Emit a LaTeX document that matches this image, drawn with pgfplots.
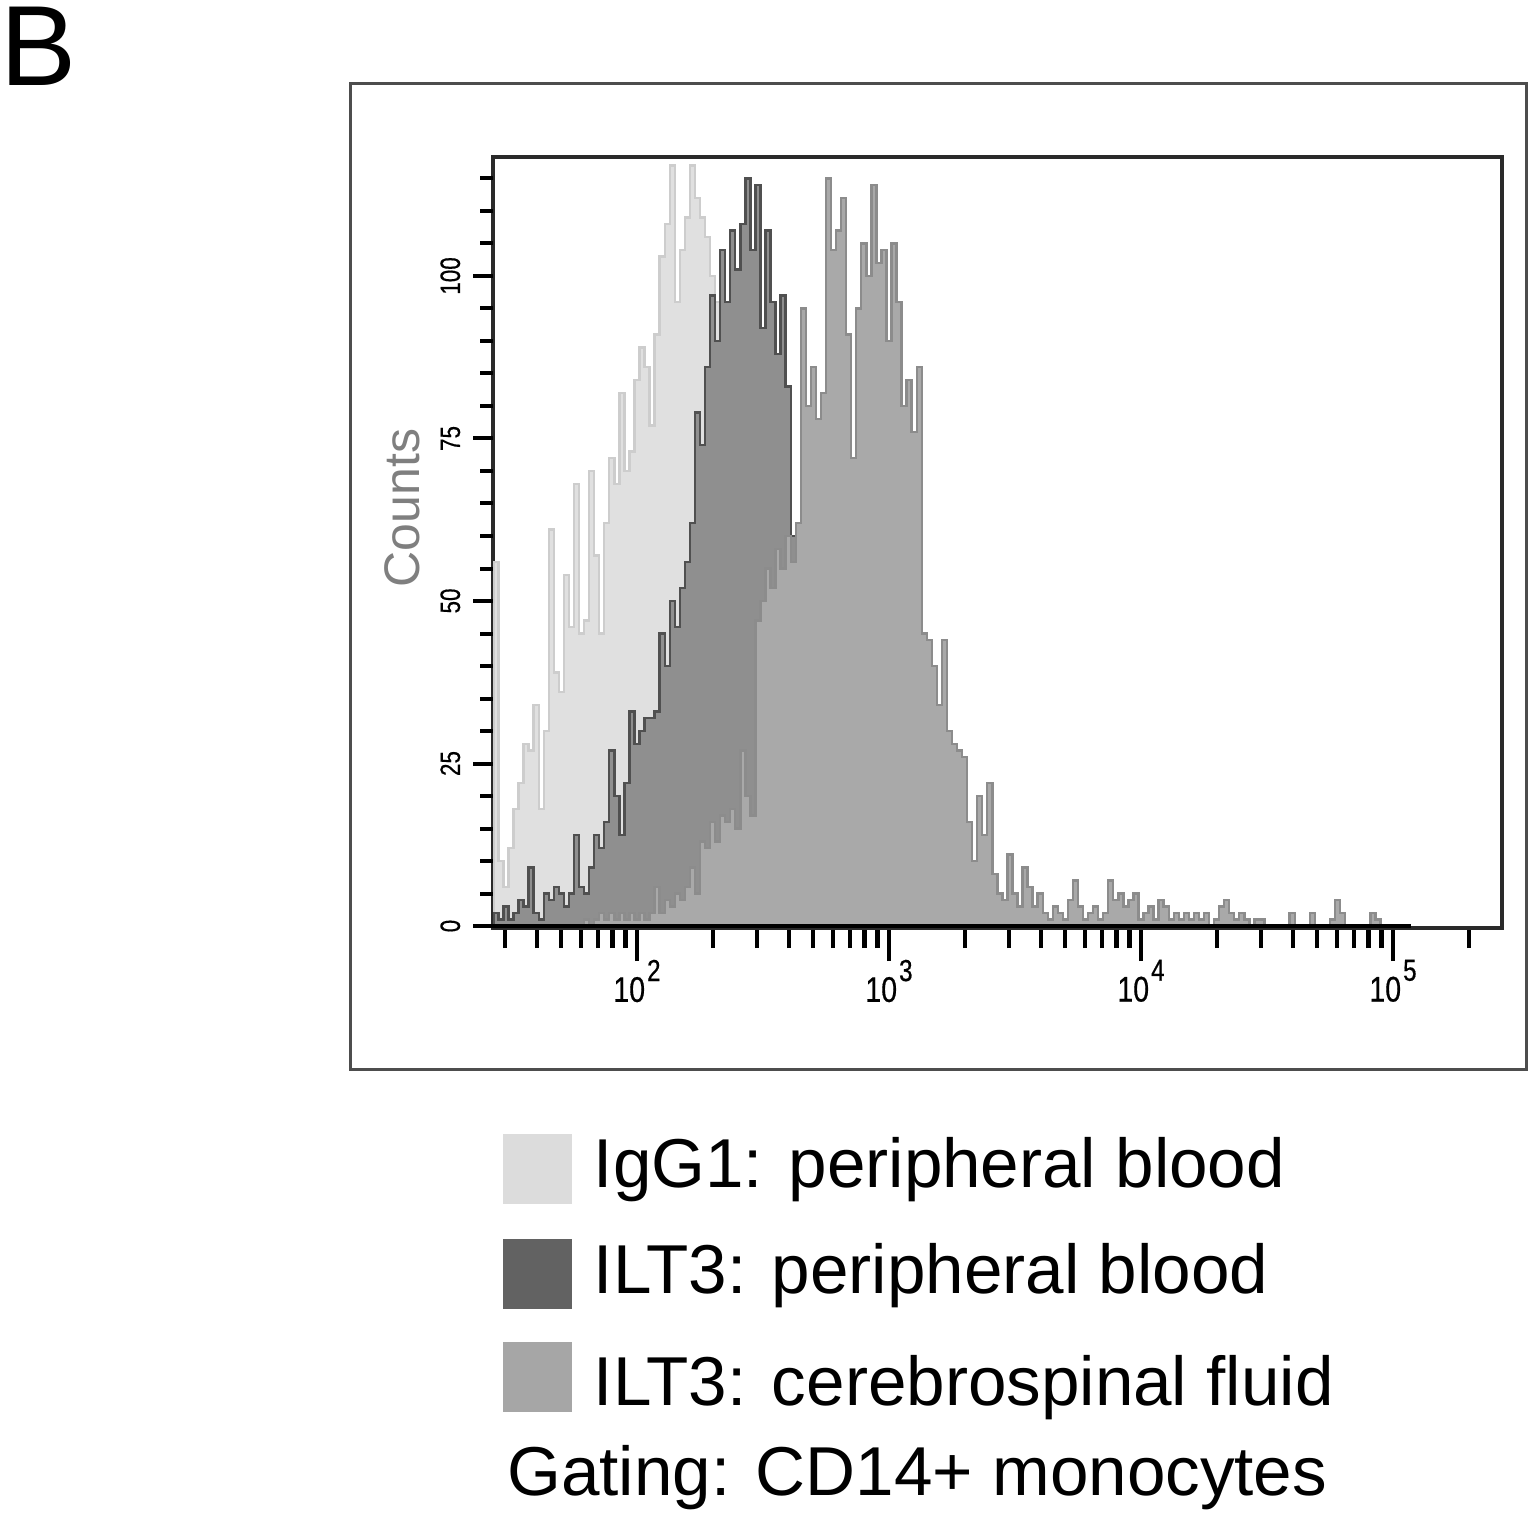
\documentclass[border=0pt]{standalone}
\usepackage{fontspec}
\setmainfont{Liberation Sans}
\newfontfamily\tickfont[FakeStretch=0.8,FakeBold=0.5]{Liberation Sans}
\usepackage{pgfplots}
\pgfplotsset{compat=1.18}
\usepackage{pgfplotstable}
\definecolor{iggfill}{HTML}{E0E0E0}
\definecolor{iggline}{HTML}{CDCDCD}
\definecolor{pbfill}{HTML}{8F8F8F}
\definecolor{pbline}{HTML}{505050}
\definecolor{csffill}{HTML}{A9A9A9}
\definecolor{csfline}{HTML}{8C8C8C}
\definecolor{leg1}{HTML}{DCDCDC}
\definecolor{leg2}{HTML}{626262}
\definecolor{leg3}{HTML}{A6A6A6}
\definecolor{framegray}{HTML}{4D4D4D}
\definecolor{axgray}{HTML}{2A2A2A}
\definecolor{labgray}{HTML}{7F7F7F}
\newcommand{\tl}[1]{10\kern0.5pt\raisebox{5.2pt}{\fontsize{7.6}{7.6}\selectfont #1}}

% IgG1: peripheral blood (x = log10 fluorescence, bin start; counts)
\pgfplotstableread{
lx c
1.43 56
1.45 10
1.47 6
1.49 12
1.51 18
1.53 22
1.55 28
1.57 27
1.59 34
1.61 18
1.63 30
1.65 61
1.67 39
1.69 36
1.71 54
1.73 46
1.75 68
1.77 45
1.79 47
1.81 70
1.83 57
1.85 45
1.87 62
1.89 72
1.91 68
1.93 82
1.95 70
1.97 73
1.99 84
2.01 89
2.03 86
2.05 77
2.07 91
2.09 103
2.11 108
2.13 117
2.15 96
2.17 104
2.19 109
2.21 117
2.23 112
2.25 109
2.27 106
2.29 100
2.31 96
2.33 90
2.35 84
2.37 80
2.39 74
2.41 70
2.43 64
2.45 60
2.47 55
2.49 50
2.51 46
2.53 42
2.55 38
2.57 34
2.59 30
2.61 27
2.63 24
2.65 20
2.67 17
2.69 14
2.71 12
2.73 10
2.75 8
2.77 6
2.79 5
2.81 4
2.83 3
2.85 2
2.87 2
2.89 1
2.91 1
2.93 0
}\igg

% ILT3: peripheral blood
\pgfplotstableread{
lx c
1.43 2
1.45 1
1.47 3
1.49 1
1.51 2
1.53 4
1.55 3
1.57 9
1.59 2
1.61 1
1.63 5
1.65 4
1.67 6
1.69 5
1.71 3
1.73 5
1.75 14
1.77 6
1.79 5
1.81 9
1.83 14
1.85 12
1.87 16
1.89 27
1.91 20
1.93 14
1.95 22
1.97 33
1.99 28
2.01 30
2.03 32
2.05 32
2.07 33
2.09 45
2.11 40
2.13 50
2.15 46
2.17 52
2.19 56
2.21 62
2.23 79
2.25 74
2.27 86
2.29 97
2.31 90
2.33 104
2.35 96
2.37 107
2.39 101
2.41 108
2.43 115
2.45 104
2.47 114
2.49 92
2.51 107
2.53 96
2.55 88
2.57 97
2.59 83
2.61 60
2.63 58
2.65 55
2.67 52
2.69 50
2.71 47
2.73 45
2.75 43
2.77 40
2.79 38
2.81 36
2.83 34
2.85 32
2.87 31
2.89 30
2.91 28
2.93 27
2.95 26
2.97 25
2.99 24
3.01 23
3.03 22
3.05 21
3.07 20
3.09 19
3.11 18
3.13 17
3.15 16
3.17 15
3.19 14
3.21 13
3.23 12
3.25 11
3.27 10
3.29 9
3.31 8
3.33 7
3.35 6
3.37 5
3.39 4
3.41 3
3.43 2
3.45 0
5.07 0
}\pb

% ILT3: cerebrospinal fluid
\pgfplotstableread{
lx c
1.79 1
1.81 0
1.83 1
1.85 2
1.87 1
1.89 2
1.91 1
1.93 2
1.95 1
1.97 2
1.99 1
2.01 2
2.03 1
2.05 2
2.07 6
2.09 2
2.11 4
2.13 3
2.15 5
2.17 4
2.19 6
2.21 9
2.23 5
2.25 13
2.27 12
2.29 16
2.31 13
2.33 17
2.35 16
2.37 18
2.39 15
2.41 27
2.43 20
2.45 17
2.47 47
2.49 50
2.51 55
2.53 52
2.55 58
2.57 55
2.59 60
2.61 56
2.63 62
2.65 95
2.67 80
2.69 86
2.71 78
2.73 82
2.75 115
2.77 104
2.79 107
2.81 112
2.83 91
2.85 72
2.87 95
2.89 105
2.91 100
2.93 114
2.95 102
2.97 104
2.99 90
3.01 105
3.03 96
3.05 80
3.07 84
3.09 76
3.11 86
3.13 45
3.15 44
3.17 40
3.19 34
3.21 44
3.23 30
3.25 28
3.27 27
3.29 26
3.31 16
3.33 10
3.35 20
3.37 14
3.39 22
3.41 8
3.43 5
3.45 4
3.47 11
3.49 5
3.51 3
3.53 9
3.55 6
3.57 3
3.59 5
3.61 2
3.63 1
3.65 3
3.67 2
3.69 1
3.71 4
3.73 7
3.75 3
3.77 1
3.79 2
3.81 3
3.83 1
3.85 2
3.87 7
3.89 4
3.91 5
3.93 3
3.95 4
3.97 5
3.99 1
4.01 2
4.03 3
4.05 1
4.07 4
4.09 3
4.11 1
4.13 2
4.15 1
4.17 2
4.19 1
4.21 2
4.23 1
4.25 2
4.27 0
4.29 1
4.31 3
4.33 4
4.35 2
4.37 1
4.39 2
4.41 1
4.43 0
4.45 1
4.47 1
4.49 0
4.59 2
4.61 0
4.67 2
4.69 0
4.75 1
4.77 4
4.79 2
4.81 0
4.91 2
4.93 1
4.95 0
5.07 0
}\csf

\begin{document}
\begin{tikzpicture}[x=1pt,y=1pt]
\useasboundingbox (0,0) rectangle (382.5,378);
% outer panel frame
\draw[line width=0.75pt, color=framegray] (87.5,110.75) rectangle (381.5,357);
% panel letter
\node[anchor=base west, inner sep=0pt, font=\fontsize{28.5}{28.5}\selectfont] at (0,356.5) {B};

\begin{axis}[
  at={(123.25pt,146pt)}, anchor=south west,
  width=252.25pt, height=192.75pt, scale only axis,
  xmin=1.4286, xmax=5.4325, ymin=-0.3, ymax=118.3,
  xtick={2,3,4,5},
  xticklabels={\tl{2},\tl{3},\tl{4},\tl{5}},
  minor xtick={1.4771,1.6021,1.6990,1.7782,1.8451,1.9031,1.9542,
    2.3010,2.4771,2.6021,2.6990,2.7782,2.8451,2.9031,2.9542,
    3.3010,3.4771,3.6021,3.6990,3.7782,3.8451,3.9031,3.9542,
    4.3010,4.4771,4.6021,4.6990,4.7782,4.8451,4.9031,4.9542,5.3010},
  ytick=\empty,
  tick align=outside, tick pos=left,
  major tick length=8.25pt, minor tick length=5pt,
  tick style={line width=1.1pt, black},
  xticklabel style={font=\tickfont\fontsize{8.9}{8.9}\selectfont, anchor=north, inner sep=0pt, yshift=0.5pt},
  axis line style={line width=0.8pt, color=axgray},
]
\addplot[fill=iggfill, draw=iggline, line width=0.6pt, const plot mark left] table[x=lx,y=c]{\igg} \closedcycle;
\addplot[fill=pbfill, draw=pbline, line width=0.6pt, const plot mark left] table[x=lx,y=c]{\pb} \closedcycle;
\addplot[fill=csffill, draw=csfline, line width=0.6pt, const plot mark left] table[x=lx,y=c]{\csf} \closedcycle;
\addplot[black, line width=1pt] coordinates {(1.4286,0) (5.07,0)};
\end{axis}

\begin{axis}[
  at={(123.25pt,146pt)}, anchor=south west,
  width=252.25pt, height=192.75pt, scale only axis,
  xmin=1.4286, xmax=5.4325, ymin=-0.3, ymax=118.3,
  xtick=\empty,
  ytick={0,25,50,75,100},
  minor ytick={5,10,15,20,30,35,40,45,55,60,65,70,80,85,90,95,105,110,115},
  tick align=outside, tick pos=left,
  major tick length=5pt, minor tick length=3.25pt,
  tick style={line width=1pt, black},
  axis line style={draw=none},
  /pgf/number format/assume math mode=true,
  yticklabel style={xshift=-3pt, rotate=90, anchor=south, inner sep=0pt,
    font=\tickfont\fontsize{7}{7}\selectfont},
  ylabel={Counts},
  ylabel style={at={(rel axis cs:-0.0902,0.5447)}, anchor=center, inner sep=0pt,
    font=\fontsize{12.5}{12.5}\selectfont, color=labgray},
]
\end{axis}

% legend
\fill[leg1] (125.75,77) rectangle (143,94.5);
\fill[leg2] (125.75,50.75) rectangle (143,68.25);
\fill[leg3] (125.75,25) rectangle (143,42.5);
\begin{scope}[every node/.style={anchor=base west, inner sep=0pt, font=\fontsize{17.3}{20}\selectfont}]
\node at (148.25,81.25) {IgG1: peripheral blood};
\node at (148.25,54.75) {ILT3: peripheral blood};
\node at (148.25,26.75) {ILT3: cerebrospinal fluid};
\node at (126.6,4.25) {Gating: CD14+ monocytes};
\end{scope}
\end{tikzpicture}
\end{document}
